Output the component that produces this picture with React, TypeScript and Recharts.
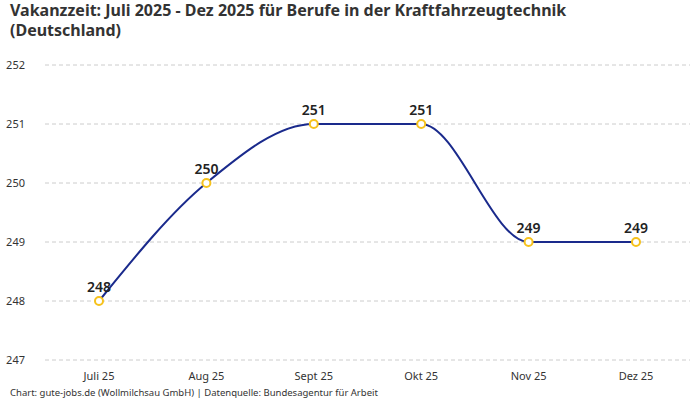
import React from 'react';
import { LineChart, Line, XAxis, YAxis, CartesianGrid, LabelList } from 'recharts';

const months = ['Juli 25', 'Aug 25', 'Sept 25', 'Okt 25', 'Nov 25', 'Dez 25'];
const vacancyDays = [248, 250, 251, 251, 249, 249];
const yTicks = [247, 248, 249, 250, 251, 252];

const data = months.map((month, i) => ({ month, value: vacancyDays[i] }));

const FONT = "'Noto Sans', Roboto, sans-serif";

export default function App() {
  return (
    <div style={{ position: 'absolute', left: 0, top: 0, width: 700, height: 400, fontFamily: FONT, background: '#fff' }}>
      <div
        style={{
          position: 'absolute',
          left: 10,
          top: 0,
          width: 680,
          fontSize: 16,
          fontWeight: 700,
          lineHeight: '20px',
          color: '#333',
        }}
      >
        <div>Vakanzzeit: Juli 2025 - Dez 2025 für Berufe in der Kraftfahrzeugtechnik</div>
        <div>(Deutschland)</div>
      </div>
      <LineChart width={700} height={400} data={data} margin={{ top: 65, right: 10, bottom: 10, left: 0 }}>
        <CartesianGrid vertical={false} stroke="#ccc" strokeDasharray="4 3" />
        <XAxis
          dataKey="month"
          axisLine={false}
          tickLine={false}
          height={30}
          padding={{ left: 54, right: 54 }}
          tick={{ fontSize: 11, fill: '#333', fontFamily: FONT }}
          tickMargin={6}
          interval={0}
        />
        <YAxis
          domain={[247, 252]}
          ticks={yTicks}
          axisLine={false}
          tickLine={false}
          width={45}
          tickMargin={14}
          tick={{ fontSize: 11, fill: '#333', fontFamily: FONT }}
        />
        <Line
          type="monotone"
          dataKey="value"
          stroke="#1a2a8c"
          strokeWidth={2}
          dot={{ r: 4, fill: '#fff', stroke: '#f6c21c', strokeWidth: 2 }}
          activeDot={false}
          isAnimationActive={false}
        >
          <LabelList
            dataKey="value"
            position="top"
            offset={9}
            style={{ fontSize: 14, fontWeight: 600, fill: '#222', fontFamily: FONT }}
          />
        </Line>
      </LineChart>
      <div style={{ position: 'absolute', left: 10, top: 386, fontSize: 9.5, color: '#333' }}>
        Chart: gute-jobs.de (Wollmilchsau GmbH) | Datenquelle: Bundesagentur für Arbeit
      </div>
    </div>
  );
}
